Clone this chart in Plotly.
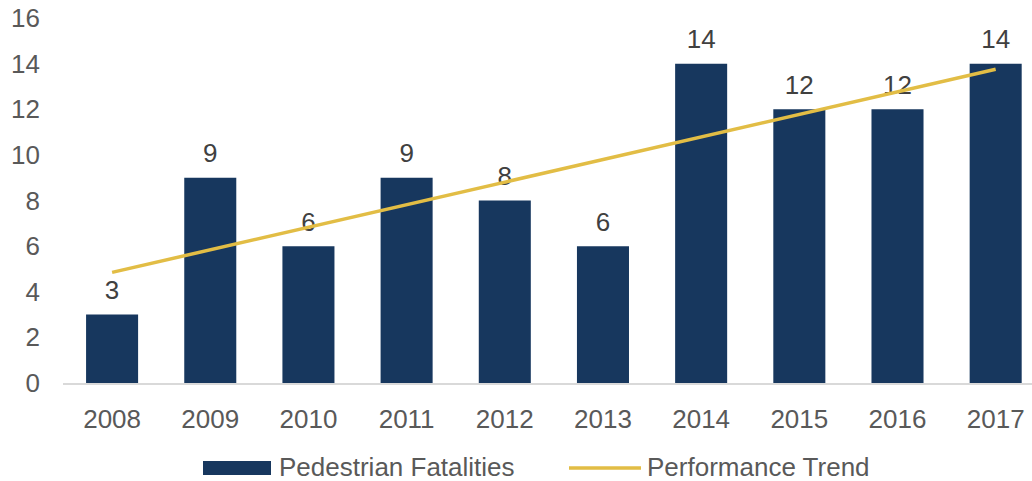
import plotly.graph_objects as go

years = ["2008", "2009", "2010", "2011", "2012", "2013", "2014", "2015", "2016", "2017"]
fatalities = [3, 9, 6, 9, 8, 6, 14, 12, 12, 14]
trend_years = ["2008", "2017"]
trend_values = [4.85, 13.75]

y_ticks = [0, 2, 4, 6, 8, 10, 12, 14, 16]

BAR_COLOR = "#17375E"
TREND_COLOR = "#E2BD45"
AXIS_TEXT = "#595959"
LABEL_TEXT = "#404040"
FONT = "Liberation Sans, Arial, sans-serif"
FS = 26

W, H = 1032, 481
L, R, T, B = 63, 0, 18, 98
PW, PH = W - L - R, H - T - B


def px_x(p):
    return (p - L) / PW


def px_y(p):
    return (H - B - p) / PH


fig = go.Figure()

fig.add_trace(go.Bar(
    x=years, y=fatalities,
    marker=dict(color=BAR_COLOR, line=dict(width=0)),
    width=0.53,
    name="Pedestrian Fatalities",
    showlegend=False,
))

# value labels: an invisible marker at each bar top pushes its text upward,
# and this trace sits below the trend line so the line crosses the labels
fig.add_trace(go.Scatter(
    x=years, y=fatalities,
    mode="markers+text",
    marker=dict(size=13, color="rgba(0,0,0,0)"),
    text=[str(v) for v in fatalities],
    textposition="top center",
    textfont=dict(size=FS, color=LABEL_TEXT, family=FONT),
    cliponaxis=False,
    hoverinfo="skip",
    showlegend=False,
))

fig.add_trace(go.Scatter(
    x=trend_years, y=trend_values,
    mode="lines",
    line=dict(color=TREND_COLOR, width=3.5),
    name="Performance Trend",
    showlegend=False,
))

# legend drawn by hand so the bar swatch keeps its wide rectangle shape
legend_y = 468
shapes = [
    dict(type="rect", xref="paper", yref="paper",
         x0=px_x(203), x1=px_x(271), y0=px_y(475), y1=px_y(461),
         fillcolor=BAR_COLOR, line=dict(width=0), layer="above"),
    dict(type="line", xref="paper", yref="paper",
         x0=px_x(569), x1=px_x(641), y0=px_y(legend_y), y1=px_y(legend_y),
         line=dict(color=TREND_COLOR, width=3.5), layer="above"),
]
annotations = [
    dict(xref="paper", yref="paper", x=px_x(277), y=px_y(legend_y - 1),
         xanchor="left", yanchor="middle", showarrow=False,
         text="Pedestrian Fatalities",
         font=dict(size=FS, color=AXIS_TEXT, family=FONT)),
    dict(xref="paper", yref="paper", x=px_x(645), y=px_y(legend_y - 1),
         xanchor="left", yanchor="middle", showarrow=False,
         text="Performance Trend",
         font=dict(size=FS, color=AXIS_TEXT, family=FONT)),
]

fig.update_layout(
    width=W, height=H,
    margin=dict(l=L, r=R, t=T, b=B, pad=0),
    paper_bgcolor="white", plot_bgcolor="white",
    font=dict(family=FONT, size=FS, color=AXIS_TEXT),
    shapes=shapes,
    annotations=annotations,
    xaxis=dict(
        type="category",
        range=[-0.5, 9.37],
        showgrid=False,
        showline=True, linecolor="#D9D9D9", linewidth=1.5,
        ticks="", ticklabelstandoff=12,
        tickfont=dict(size=FS, color=AXIS_TEXT),
    ),
    yaxis=dict(
        range=[0, 16],
        tickvals=y_ticks,
        showgrid=False, zeroline=False, showline=False,
        ticks="", ticklabelstandoff=22,
        tickfont=dict(size=FS, color=AXIS_TEXT),
    ),
)

fig.write_html("out.html")
